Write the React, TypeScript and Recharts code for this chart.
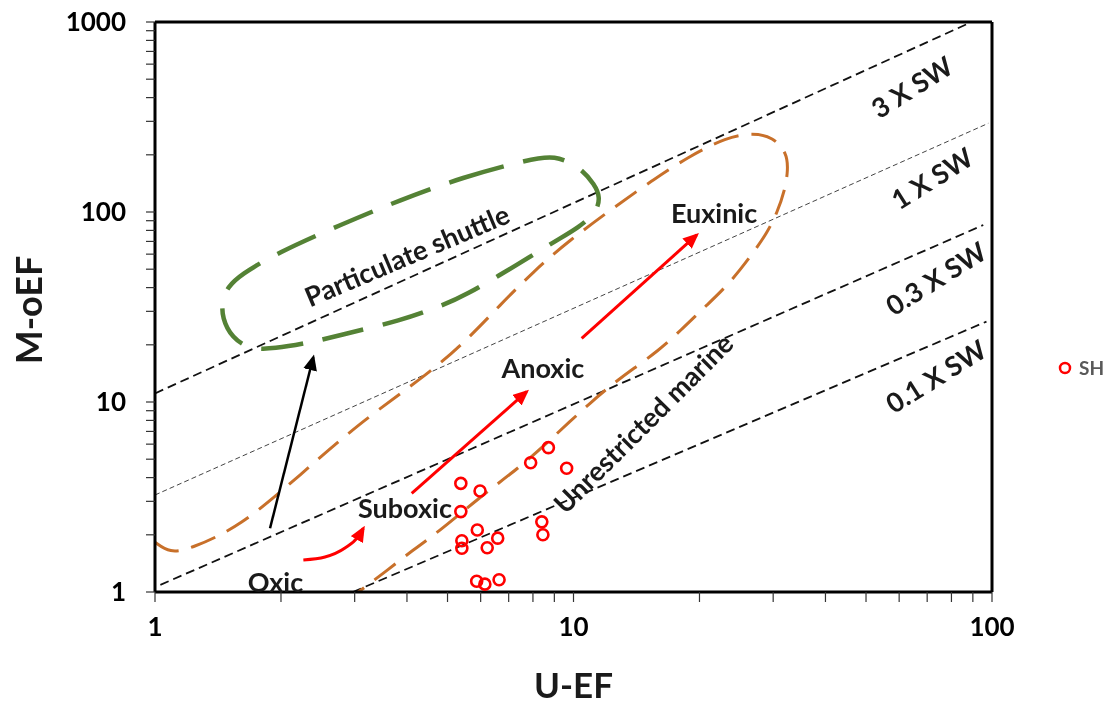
import React from "react"
import {
  ComposedChart,
  Scatter,
  Line,
  XAxis,
  YAxis,
  ReferenceLine,
  Legend,
  Label,
} from "recharts"

const FONT = "Lato, 'Open Sans', sans-serif"

// SH samples: U-EF vs M-oEF
const shU = [5.38, 5.98, 5.38, 5.89, 5.41, 5.41, 6.22, 6.59, 5.87, 6.14, 6.64, 7.9, 8.71, 9.63, 8.4, 8.45]
const shM = [3.73, 3.4, 2.65, 2.12, 1.86, 1.7, 1.71, 1.92, 1.14, 1.1, 1.16, 4.79, 5.75, 4.48, 2.34, 2.0]

// seawater ratio lines (end points)
const sw3U = [1, 88]
const sw3M = [11.1, 985]
const sw1U = [1, 98]
const sw1M = [3.24, 293]
const sw03U = [1.03, 95.3]
const sw03M = [1.09, 85.4]
const sw01U = [2.97, 97]
const sw01M = [1.0, 26.5]

// unrestricted marine field (orange outline, open at the axes)
const orangeU = [1.0, 1.086, 1.212, 1.596, 2.221, 3.141, 4.467, 5.567, 6.674, 8.003, 9.65, 12.92, 15.49, 18.77, 23.27, 26.85, 29.98, 32.37, 32.55, 32.02, 30.64, 29.0, 26.85, 23.66, 20.84, 18.26, 16.09, 12.92, 11.13, 8.64, 7.45, 5.98, 4.72, 4.135, 3.545, 3.039]
const orangeM = [1.83, 1.604, 1.684, 2.198, 4.128, 8.04, 13.87, 21.2, 32.4, 48.3, 69.5, 111.5, 147.4, 194.8, 248.2, 260.5, 248.2, 204.4, 166.3, 130.6, 98.8, 77.5, 60.8, 42.3, 32.4, 24.5, 18.78, 13.37, 10.24, 6.085, 4.549, 3.162, 2.045, 1.664, 1.274, 0.988]

// particulate shuttle field (green closed outline)
const greenU = [3.85, 5.445, 7.74, 9.03, 10.36, 11.26, 11.57, 11.38, 10.25, 9.13, 7.45, 5.445, 4.8, 3.914, 2.722, 2.386, 1.914, 1.687, 1.528, 1.446, 1.446, 1.494, 1.596, 1.957, 2.767]
const greenM = [115.7, 152.8, 187.8, 199.5, 172.6, 138.7, 119.9, 100, 82.4, 71.2, 53.9, 35.7, 32.0, 27.0, 22.3, 20.7, 19.0, 19.0, 21.7, 27.7, 34.4, 40.3, 46.6, 60.8, 85.4]

// arrows
const arrowOxSubU = [2.262, 2.548, 2.844, 3.055, 3.146]
const arrowOxSubM = [1.474, 1.528, 1.704, 1.948, 2.164]
const arrowSubAnoxU = [4.106, 7.73]
const arrowSubAnoxM = [3.307, 11.33]
const arrowAnoxEuxU = [10.46, 19.7]
const arrowAnoxEuxM = [21.6, 75.7]
const arrowShuttleU = [1.883, 2.389]
const arrowShuttleM = [2.164, 17.19]

// annotations
const labelText = ["Oxic", "Suboxic", "Anoxic", "Euxinic", "Particulate shuttle", "Unrestricted marine", "3 X SW", "1 X SW", "0.3 X SW", "0.1 X SW"]
const labelU = [1.941, 3.957, 8.45, 21.67, 3.995, 14.66, 64.3, 71.8, 73.4, 73.4]
const labelM = [1.133, 2.768, 15.1, 98.8, 59.4, 7.75, 456.4, 151, 44.9, 13.7]

const xTicks = [1, 2, 3, 4, 5, 6, 7, 8, 9, 10, 20, 30, 40, 50, 60, 70, 80, 90, 100]
const yTicks = [1, 2, 3, 4, 5, 6, 7, 8, 9, 10, 20, 30, 40, 50, 60, 70, 80, 90, 100, 200, 300, 400, 500, 600, 700, 800, 900, 1000]
const labelledTicks = [1, 10, 100, 1000]

const zip = (u: number[], m: number[]) => u.map((x, i) => ({ x, y: m[i] }))

const shData = zip(shU, shM)
const labelData = labelText.map((text, i) => ({ x: labelU[i], y: labelM[i], text }))

const ANGLE: Record<string, number> = {
  "Particulate shuttle": -23,
  "Unrestricted marine": -45,
  "3 X SW": -32,
  "1 X SW": -32,
  "0.3 X SW": -32,
  "0.1 X SW": -32,
}

const tickFmt = (v: number) => (labelledTicks.includes(v) ? String(v) : "")

const TextMark = (props: any) => {
  const { cx, cy, payload } = props
  const a = ANGLE[payload.text] ?? 0
  return (
    <text
      x={cx}
      y={cy}
      textAnchor="middle"
      dominantBaseline="central"
      transform={a ? `rotate(${a} ${cx} ${cy})` : undefined}
      fontFamily={FONT}
      fontWeight={700}
      fontSize={27}
      fill="#1a1a1a"
    >
      {payload.text}
    </text>
  )
}

const RingMark = (props: any) => (
  <circle cx={props.cx} cy={props.cy} r={5.5} stroke="#ff0000" strokeWidth={2.6} fill="none" />
)

const seriesBase = { dataKey: "y", dot: false, activeDot: false, legendType: "none" as const, isAnimationActive: false }

export default function App() {
  return (
    <div style={{ position: "fixed", left: 0, top: 0 }}>
      <ComposedChart width={1110} height={706} margin={{ top: 22, right: 8, bottom: 0, left: 0 }}>
        <defs>
          <marker id="arrRed" viewBox="0 0 16 14" refX={13} refY={7} markerWidth={16} markerHeight={14} markerUnits="userSpaceOnUse" orient="auto">
            <path d="M0,0 L16,7 L0,14 z" fill="#ff0000" />
          </marker>
          <marker id="arrBlack" viewBox="0 0 16 14" refX={13} refY={7} markerWidth={16} markerHeight={14} markerUnits="userSpaceOnUse" orient="auto">
            <path d="M0,0 L16,7 L0,14 z" fill="#000" />
          </marker>
        </defs>

        <XAxis
          type="number"
          dataKey="x"
          scale="log"
          domain={[1, 100]}
          allowDataOverflow
          ticks={xTicks}
          interval={0}
          tickFormatter={tickFmt}
          height={114}
          tickSize={10}
          tickMargin={16}
          tick={{ fontFamily: FONT, fontSize: 26, fontWeight: 700, fill: "#000" }}
          axisLine={{ stroke: "#000", strokeWidth: 3 }}
          tickLine={{ stroke: "#333", strokeWidth: 1.2 }}
        >
          <Label
            content={(p: any) => {
              const vb = p.viewBox
              return (
                <text x={vb.x + vb.width / 2} y={vb.y + 106} textAnchor="middle" fontFamily={FONT} fontWeight={700} fontSize={35} fill="#1a1a1a">
                  U-EF
                </text>
              )
            }}
          />
        </XAxis>
        <YAxis
          type="number"
          dataKey="y"
          scale="log"
          domain={[1, 1000]}
          allowDataOverflow
          ticks={yTicks}
          interval={0}
          tickFormatter={tickFmt}
          width={155}
          tickSize={9}
          tickMargin={20}
          tick={{ fontFamily: FONT, fontSize: 26, fontWeight: 700, fill: "#000" }}
          axisLine={{ stroke: "#000", strokeWidth: 3 }}
          tickLine={{ stroke: "#333", strokeWidth: 1.2 }}
        >
          <Label
            content={(p: any) => {
              const vb = p.viewBox
              const x = vb.x + 28
              const y = vb.y + vb.height / 2 + 3
              return (
                <text x={x} y={y} transform={`rotate(-90 ${x} ${y})`} textAnchor="middle" dominantBaseline="central" fontFamily={FONT} fontWeight={700} fontSize={36} fill="#1a1a1a">
                  M-oEF
                </text>
              )
            }}
          />
        </YAxis>

        <ReferenceLine y={1000} stroke="#000" strokeWidth={3} />
        <ReferenceLine x={100} stroke="#000" strokeWidth={3} />

        {/* seawater lines */}
        <Line {...seriesBase} data={zip(sw3U, sw3M)} type="linear" stroke="#111" strokeWidth={1.8} strokeDasharray="9 5" />
        <Line {...seriesBase} data={zip(sw1U, sw1M)} type="linear" stroke="#444" strokeWidth={1} strokeDasharray="5 3" />
        <Line {...seriesBase} data={zip(sw03U, sw03M)} type="linear" stroke="#111" strokeWidth={1.8} strokeDasharray="9 5" />
        <Line {...seriesBase} data={zip(sw01U, sw01M)} type="linear" stroke="#111" strokeWidth={1.8} strokeDasharray="9 5" />

        {/* fields */}
        <Line {...seriesBase} data={zip(orangeU, orangeM)} type="basis" stroke="#c8702a" strokeWidth={3} strokeDasharray="26 13" />
        <Line {...seriesBase} data={zip(greenU, greenM)} type="basisClosed" stroke="#548235" strokeWidth={4.5} strokeDasharray="42 20" />

        {/* arrows */}
        <Line {...seriesBase} data={zip(arrowOxSubU, arrowOxSubM)} type="monotoneX" stroke="#ff0000" strokeWidth={3} markerEnd="url(#arrRed)" />
        <Line {...seriesBase} data={zip(arrowSubAnoxU, arrowSubAnoxM)} type="linear" stroke="#ff0000" strokeWidth={3} markerEnd="url(#arrRed)" />
        <Line {...seriesBase} data={zip(arrowAnoxEuxU, arrowAnoxEuxM)} type="linear" stroke="#ff0000" strokeWidth={3} markerEnd="url(#arrRed)" />
        <Line {...seriesBase} data={zip(arrowShuttleU, arrowShuttleM)} type="linear" stroke="#000" strokeWidth={2.5} markerEnd="url(#arrBlack)" />

        <Scatter name="labels" data={labelData} shape={TextMark} legendType="none" isAnimationActive={false} />
        <Scatter name="SH" data={shData} shape={RingMark} fill="#ff0000" isAnimationActive={false} />

        <Legend
          layout="vertical"
          align="right"
          verticalAlign="top"
          width={110}
          wrapperStyle={{ top: 356 }}
          content={(p: any) => (
            <div>
              {(p.payload || [])
                .filter((e: any) => e.value === "SH")
                .map((e: any) => (
                  <div
                    key={e.value}
                    style={{ display: "flex", alignItems: "center", whiteSpace: "nowrap", marginLeft: 66, fontFamily: FONT, fontWeight: 700, fontSize: 19, color: "#595959" }}
                  >
                    <svg width={14} height={14} style={{ flexShrink: 0 }}>
                      <circle cx={7} cy={7} r={5} stroke="#ff0000" strokeWidth={2.5} fill="none" />
                    </svg>
                    <span style={{ marginLeft: 7 }}>{e.value}</span>
                  </div>
                ))}
            </div>
          )}
        />
      </ComposedChart>
    </div>
  )
}
